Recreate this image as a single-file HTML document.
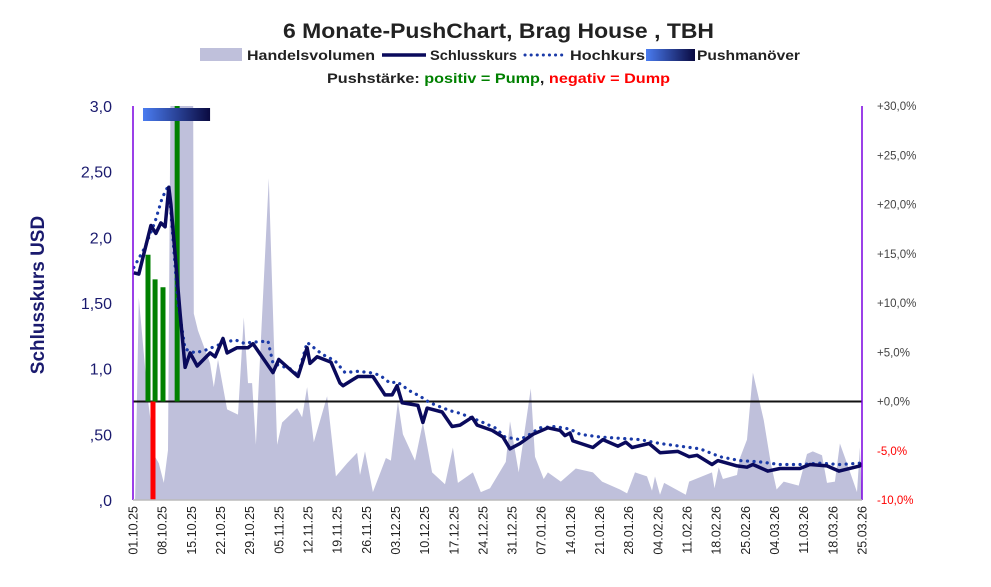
<!DOCTYPE html>
<html><head><meta charset="utf-8"><style>
body{margin:0;background:#fff;}
svg{display:block;font-family:"Liberation Sans",sans-serif;}
</style></head><body>
<svg id="chart" width="991" height="587" viewBox="0 0 991 587" xmlns="http://www.w3.org/2000/svg">
<defs>
<linearGradient id="pg" x1="0" x2="1" y1="0" y2="0"><stop offset="0" stop-color="#4a7cf0"/><stop offset="1" stop-color="#0a0a40"/></linearGradient>
<clipPath id="plotclip"><rect x="133" y="106" width="729" height="394"/></clipPath>
</defs>
<text x="283" y="38" font-size="21" font-weight="bold" fill="#222" textLength="431" lengthAdjust="spacingAndGlyphs">6 Monate-PushChart, Brag House , TBH</text>
<g font-size="14" font-weight="bold" fill="#222">
<rect x="200" y="48" width="42" height="13" fill="#bfc0db"/>
<text x="247" y="60" textLength="128" lengthAdjust="spacingAndGlyphs">Handelsvolumen</text>
<line x1="382" y1="55" x2="426" y2="55" stroke="#0a0a5c" stroke-width="3.5"/>
<text x="430" y="60" textLength="87" lengthAdjust="spacingAndGlyphs">Schlusskurs</text>
<line x1="525" y1="55" x2="565" y2="55" stroke="#1a3aa8" stroke-width="3" stroke-dasharray="0.1,6" stroke-linecap="round"/>
<text x="570" y="60" textLength="75" lengthAdjust="spacingAndGlyphs">Hochkurs</text>
<rect x="646" y="49" width="49" height="12" fill="url(#pg)"/>
<text x="697" y="60" textLength="103" lengthAdjust="spacingAndGlyphs">Pushmanöver</text>
</g>
<text x="327" y="83" font-size="14" font-weight="bold" textLength="343" lengthAdjust="spacingAndGlyphs"><tspan fill="#222">Pushstärke:  </tspan><tspan fill="#008000">positiv = Pump</tspan><tspan fill="#222">,  </tspan><tspan fill="#ff0000">negativ = Dump</tspan></text>
<text transform="translate(44,295) rotate(-90)" text-anchor="middle" font-size="19" font-weight="bold" fill="#1a1a6e">Schlusskurs USD</text>
<g id="plot" clip-path="url(#plotclip)"></g>
<g id="axes"></g>
</svg>
<script>
const closeDays=[0.2,1.4,4.3,5.5,6.7,7.7,8.6,9.1,11.3,12.5,13.7,15.4,18.5,19.7,21.6,22.6,25,27.6,28.8,33.6,35,39.6,41.8,42.5,44.2,47.5,49.7,50.4,54,57.6,60.5,62.2,63.4,64.6,68.4,69.6,70.6,74.2,76.6,78.5,81.4,82.6,86.2,88.8,90.5,92.9,96,99.6,102.5,103.7,104.9,105.6,110.4,112.8,116.4,118.3,119.8,123.9,126.5,130.8,133.5,135.4,139,140.4,145,147.4,148.8,152.4,155.3,160.1,162.5,166.6,169.5,174.5,175];
const closeVals=[1.73,1.72,2.09,2.03,2.11,2.08,2.38,2.25,1.42,1.01,1.12,1.02,1.12,1.09,1.23,1.12,1.16,1.16,1.19,0.97,1.07,0.94,1.16,1.04,1.09,1.05,0.89,0.87,0.94,0.94,0.80,0.80,0.87,0.74,0.72,0.59,0.70,0.67,0.56,0.57,0.63,0.57,0.53,0.48,0.39,0.43,0.50,0.55,0.53,0.49,0.51,0.45,0.40,0.46,0.41,0.44,0.40,0.43,0.36,0.37,0.33,0.34,0.27,0.30,0.26,0.25,0.27,0.22,0.24,0.24,0.27,0.26,0.22,0.26,0.28];
const highDays=[0.2,2.8,5.3,7,8.6,10.8,12.5,14.9,17.3,19.7,22.1,24.5,26.9,28.1,32.4,33.6,37.7,39.6,41.8,45.4,48.5,50.9,54,56.9,59.3,61.7,63.4,66.5,68.9,71.3,73.7,76.1,78.5,83.3,86.9,89.3,92.9,95.3,97.7,101.3,104.9,107.3,112.1,116.9,121.7,126.5,131.3,136.1,140.9,145.7,150.5,155.3,160.1,164.9,169.7,174.5];
const highVals=[1.77,1.92,2.12,2.30,2.40,1.50,1.15,1.12,1.14,1.17,1.20,1.22,1.19,1.20,1.21,1.04,1.00,0.95,1.20,1.11,1.06,0.97,0.98,0.97,0.95,0.89,0.90,0.83,0.79,0.74,0.71,0.68,0.66,0.60,0.55,0.48,0.46,0.50,0.55,0.56,0.54,0.50,0.48,0.47,0.46,0.43,0.41,0.39,0.33,0.30,0.29,0.27,0.27,0.28,0.27,0.28];
const volDays=[0.5,1.4,3.6,5.3,6.2,7.4,8.4,9.1,14.4,14.6,15.6,18.5,19.4,20.4,22.6,25.2,26.6,27.6,28.6,29.5,30.2,32.6,34.6,35.8,39.4,40.6,41.8,43.4,46.6,48.7,51.4,53.8,54.5,55.7,57.6,60.7,61.9,63.6,64.8,67.7,69.6,71.8,74.9,76.8,78,81.6,83.5,85.7,89.5,90.5,92.6,95.5,96.5,98.6,99.6,102.7,106.3,110.4,112.6,116.9,118.6,120.5,123.4,124.6,125.3,126.5,127.5,132.7,133.5,139,139.6,140.6,141.6,145,145.6,147.4,148.8,151.4,153.1,154.5,156.2,159.8,161.8,163.2,165.4,166.6,168.5,169.7,171.4,173.8,174.5,175];
const volVals=[0,1.54,0.76,0.33,0.28,0.13,0.38,3.5,3.5,1.42,1.29,1.04,0.86,1.07,0.69,0.65,1.39,0.89,0.89,0.42,0.89,2.45,0.42,0.59,0.70,0.63,0.86,0.44,0.79,0.18,0.28,0.36,0.19,0.37,0.06,0.32,0.30,0.75,0.50,0.30,0.59,0.21,0.12,0.40,0.13,0.21,0.06,0.09,0.29,0.60,0.21,0.85,0.33,0.16,0.21,0.14,0.24,0.21,0.14,0.08,0.05,0.21,0.18,0.07,0.18,0.04,0.13,0.04,0.14,0.21,0.09,0.25,0.16,0.19,0.31,0.46,0.97,0.61,0.28,0.08,0.14,0.11,0.35,0.37,0.34,0.13,0.14,0.43,0.28,0.06,0.40,0.02];
const pushDays=[3.6,4.8,5.3,7.2,10.6];
const pushVals=[14.9,-10,12.4,11.6,30];
const pushBoxDays=[2.4,18.5];
const leftTicks=[0,0.5,1,1.5,2,2.5,3];
const leftTickLabels=[",0",",50","1,0","1,50","2,0","2,50","3,0"];
const rightTicks=[-10,-5,0,5,10,15,20,25,30];
const rightTickLabels=["-10,0%","-5,0%","+0,0%","+5,0%","+10,0%","+15,0%","+20,0%","+25,0%","+30,0%"];
const dateTickDays=[0,7,14,21,28,35,42,49,56,63,70,77,84,91,98,105,112,119,126,133,140,147,154,161,168,175];
const dateTickLabels=["01.10.25","08.10.25","15.10.25","22.10.25","29.10.25","05.11.25","12.11.25","19.11.25","26.11.25","03.12.25","10.12.25","17.12.25","24.12.25","31.12.25","07.01.26","14.01.26","21.01.26","28.01.26","04.02.26","11.02.26","18.02.26","25.02.26","04.03.26","11.03.26","18.03.26","25.03.26"];

const X0=133,X1=862,YT=106,YB=500;
const xs=d=>X0+(d/175)*(X1-X0);
const yl=v=>YB-(v/3)*(YB-YT);
const yr=p=>YB-((p+10)/40)*(YB-YT);
const NS="http://www.w3.org/2000/svg";
const plot=document.getElementById('plot'),axes=document.getElementById('axes');
function mk(tag,attrs,parent){const e=document.createElementNS(NS,tag);for(const k in attrs)e.setAttribute(k,attrs[k]);parent.appendChild(e);return e;}

let vd="M"+xs(volDays[0])+","+YB;
volDays.forEach((d,i)=>{vd+=" L"+xs(d).toFixed(1)+","+yl(volVals[i]).toFixed(1);});
vd+=" L"+xs(volDays[volDays.length-1])+","+YB+" Z";
const va=mk('path',{d:vd,fill:'#bfc0db'},plot);



const zl=mk('line',{x1:X0,x2:X1,y1:yr(0),y2:yr(0),stroke:'#111','stroke-width':2},plot);



pushDays.forEach((d,i)=>{
  const v=pushVals[i];const y0=yr(0),y1=yr(v);
  const r=mk('rect',{x:xs(d)-2.5,y:Math.min(y0,y1),width:5,height:Math.abs(y1-y0),fill:v>=0?'#008000':'#ff0000'},plot);
  
  
});

const hp=mk('polyline',{points:highDays.map((d,i)=>xs(d).toFixed(1)+","+yl(highVals[i]).toFixed(1)).join(' '),fill:'none',stroke:'#1a3aa8','stroke-width':3.2,'stroke-dasharray':'0.1,6.5','stroke-linecap':'round'},plot);



const cp=mk('polyline',{points:closeDays.map((d,i)=>xs(d).toFixed(1)+","+yl(closeVals[i]).toFixed(1)).join(' '),fill:'none',stroke:'#0a0a5c','stroke-width':3.5,'stroke-linejoin':'round'},plot);



const pb=mk('rect',{x:xs(pushBoxDays[0]),y:108,width:xs(pushBoxDays[1])-xs(pushBoxDays[0]),height:13,fill:'url(#pg)'},axes);



const la=mk('line',{x1:X0,x2:X0,y1:YT,y2:YB,stroke:'#7a00e0','stroke-width':1.5},axes);


const ra=mk('line',{x1:X1,x2:X1,y1:YT,y2:YB,stroke:'#7a00e0','stroke-width':1.5},axes);


const ba=mk('line',{x1:X0,x2:X1,y1:YB,y2:YB,stroke:'#bbb','stroke-width':1.5},axes);



leftTicks.forEach((v,i)=>{
  const t=mk('text',{x:112,y:yl(v)+6,'text-anchor':'end','font-size':16,fill:'#1a1a6e'},axes);
  t.textContent=leftTickLabels[i];
  
  
});
rightTicks.forEach((v,i)=>{
  const t=mk('text',{x:877,y:yr(v)+4,'font-size':11.5,fill:v<0?'#ff0000':'#444'},axes);
  t.textContent=rightTickLabels[i];
  
  
});
dateTickDays.forEach((d,i)=>{
  const x=xs(d);
  const t=mk('text',{transform:'translate('+(x+4.5)+',506) rotate(-90)','text-anchor':'end','font-size':12.5,fill:'#222'},axes);
  t.textContent=dateTickLabels[i];
  
  
});
</script>
</body></html>
